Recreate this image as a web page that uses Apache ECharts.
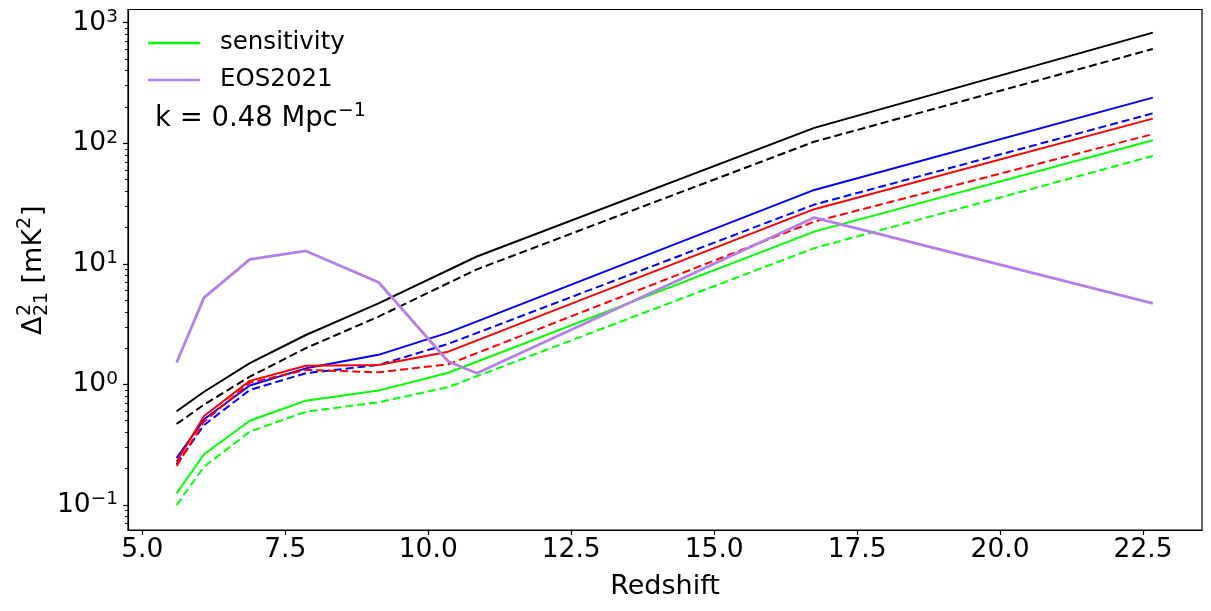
<!DOCTYPE html>
<html><head><meta charset="utf-8">
<script src="https://cdn.jsdelivr.net/npm/echarts@6/dist/echarts.min.js"></script>
<style>html,body{margin:0;padding:0;background:#fff}#c{width:1211px;height:611px}</style>
</head><body><div id="c"></div>
<script>
// ---- data ----
const redshift    = [5.6, 6.08, 6.88, 7.86, 9.13, 10.35, 10.85, 16.75, 22.67];
const blackSolid  = [0.60, 0.87, 1.50, 2.57, 4.70, null, 11.5, 134, 826];
const blackDashed = [0.47, 0.68, 1.16, 2.00, 3.65, null, 9.0, 103, 605];
const blueSolid   = [0.245, 0.514, 0.98, 1.36, 1.76, 2.69, null, 41, 239];
const blueDashed  = [0.218, 0.461, 0.90, 1.24, 1.45, 2.17, null, 31, 177];
const redSolid    = [0.229, 0.548, 1.07, 1.43, 1.45, 1.87, null, 28.4, 160];
const redDashed   = [0.211, 0.49, 1.035, 1.32, 1.26, 1.47, null, 22.4, 119];
const greenSolid  = [0.125, 0.264, 0.50, 0.734, 0.889, 1.25, null, 18.5, 106];
const greenDashed = [0.100, 0.208, 0.406, 0.594, 0.711, 0.95, null, 13.5, 78.5];
const eos2021     = [1.52, 5.25, 10.9, 12.8, 7.03, 1.55, 1.24, 24.2, 4.71];
const xTicks = [5, 7.5, 10, 12.5, 15, 17.5, 20, 22.5];
const yMajorTicks = [0.1, 1, 10, 100, 1000];
const yMinorTicks = [0.07, 0.08, 0.09, 0.2, 0.3, 0.4, 0.5, 0.6, 0.7, 0.8, 0.9,
  2, 3, 4, 5, 6, 7, 8, 9, 20, 30, 40, 50, 60, 70, 80, 90,
  200, 300, 400, 500, 600, 700, 800, 900];
const legendNames = ['sensitivity', 'EOS2021'];

const FONT = 'DejaVu Sans';
function mk(name, vals, color, dashed, width, z) {
  return {
    name: name, type: 'line', color: color,
    data: redshift.map((x, i) => [x, vals[i]]).filter(d => d[1] != null),
    showSymbol: false, symbol: 'none', z: z || 2,
    lineStyle: { color: color, width: width || 2, type: dashed ? [8, 4] : 'solid', cap: 'butt' },
    emphasis: { disabled: true }
  };
}
function sup(v) {
  const e = Math.round(Math.log10(v));
  return '{b|10}{s|' + (e < 0 ? '\u2212' + (-e) : e) + '}';
}
const chart = echarts.init(document.getElementById('c'), null, { renderer: 'canvas' });
chart.setOption({
  animation: false,
  textStyle: { fontFamily: FONT },
  grid: { left: 128, right: 9, top: 9.5, bottom: 81, show: true, borderColor: '#000', borderWidth: 1.2,
          containLabel: false, outerBoundsMode: 'none' },
  legend: {
    left: 143, top: 23, orient: 'vertical', selectedMode: false,
    data: legendNames, icon: 'rect', itemWidth: 52, itemHeight: 2.6, itemGap: 7,
    textStyle: { fontSize: 24.5, color: '#000', fontFamily: FONT, lineHeight: 30, padding: [0, 0, 0, 15] }
  },
  xAxis: {
    type: 'value', min: 4.75, max: 23.53,
    axisLine: { show: true, lineStyle: { color: '#000', width: 1.2 } },
    axisTick: { show: true, length: 5, lineStyle: { color: '#000', width: 1.2 }, customValues: xTicks },
    axisLabel: { customValues: xTicks, formatter: v => v.toFixed(1), fontSize: 26.5, color: '#000', margin: 7, fontFamily: FONT },
    splitLine: { show: false },
    name: 'Redshift', nameLocation: 'middle', nameGap: 43,
    nameTextStyle: { fontSize: 27, color: '#000', fontFamily: FONT }
  },
  yAxis: [{
    type: 'log', logBase: 10, min: 0.0621, max: 1285,
    axisLine: { show: true, lineStyle: { color: '#000', width: 1.2 } },
    axisTick: { show: true, length: 5, lineStyle: { color: '#000', width: 1.2 } },
    axisLabel: {
      formatter: sup, margin: 10, showMinLabel: false, showMaxLabel: false, color: '#000',
      rich: {
        b: { fontSize: 26.5, fontFamily: FONT, color: '#000', lineHeight: 30 },
        s: { fontSize: 18.5, fontFamily: FONT, color: '#000', verticalAlign: 'top', lineHeight: 16 }
      }
    },
    splitLine: { show: false }, minorTick: { show: false }
  }, {
    type: 'log', logBase: 10, min: 0.0621, max: 1285, position: 'left',
    axisLine: { show: false },
    axisTick: { show: true, length: 3, lineStyle: { color: '#000', width: 0.9 }, customValues: yMinorTicks },
    axisLabel: { show: false }, splitLine: { show: false }
  }],
  graphic: [
    {
      type: 'text', left: 155, top: 102, silent: true,
      style: {
        text: '{a|k = 0.48 Mpc}{s|\u22121}', fill: '#000',
        rich: {
          a: { fontSize: 27.5, fontFamily: FONT, lineHeight: 34 },
          s: { fontSize: 19, fontFamily: FONT, verticalAlign: 'top', lineHeight: 20 }
        }
      }
    },
    {
      type: 'group', x: 34, y: 270, rotation: Math.PI / 2, silent: true,
      children: [
        { type: 'text', x: -65, y: 0, style: { text: '\u0394', fontSize: 27, fontFamily: FONT, fill: '#000', verticalAlign: 'middle' } },
        { type: 'text', x: -46, y: -9, style: { text: '2', fontSize: 19, fontFamily: FONT, fill: '#000', verticalAlign: 'middle' } },
        { type: 'text', x: -46, y: 8, style: { text: '21', fontSize: 19, fontFamily: FONT, fill: '#000', verticalAlign: 'middle' } },
        { type: 'text', x: -22, y: 0, style: { text: ' [mK', fontSize: 27, fontFamily: FONT, fill: '#000', verticalAlign: 'middle' } },
        { type: 'text', x: 41, y: -9, style: { text: '2', fontSize: 19, fontFamily: FONT, fill: '#000', verticalAlign: 'middle' } },
        { type: 'text', x: 54, y: 0, style: { text: ']', fontSize: 27, fontFamily: FONT, fill: '#000', verticalAlign: 'middle' } }
      ]
    }
  ],
  series: [
    mk('black', blackSolid, '#000000', false),
    mk('black dashed', blackDashed, '#000000', true),
    mk('blue', blueSolid, '#0000ff', false),
    mk('blue dashed', blueDashed, '#0000ff', true),
    mk('red', redSolid, '#ff0000', false),
    mk('red dashed', redDashed, '#ff0000', true),
    mk('sensitivity', greenSolid, '#00ff00', false),
    mk('sensitivity dashed', greenDashed, '#00ff00', true),
    mk('EOS2021', eos2021, '#b57fea', false, 2.8, 3)
  ]
});
</script></body></html>
